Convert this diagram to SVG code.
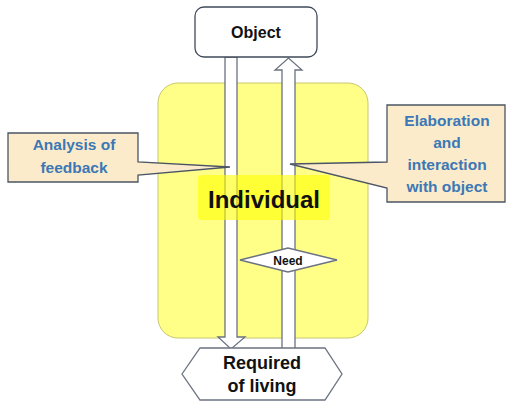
<svg xmlns="http://www.w3.org/2000/svg" width="507" height="401" viewBox="0 0 507 401">
<style>
.arr{fill:#ffffff;stroke:#6b7280;stroke-width:1.3}
.call{fill:#fcebcb;stroke:#4b5563;stroke-width:1.3}
.ct{font-family:"Liberation Sans",Arial,sans-serif;font-weight:bold;font-size:15.5px;fill:#3b78b5;text-anchor:middle}
.bt{font-family:"Liberation Sans",Arial,sans-serif;font-weight:bold;fill:#111111;text-anchor:middle}
</style>
<rect width="507" height="401" fill="#ffffff"/>
<g id="individual">
<rect x="158" y="83" width="210" height="255" rx="20" fill="#ffff88" stroke="#c8c870" stroke-width="1"/>
</g>
<g id="connectors">
<polygon class="arr" points="225,57 237,57 237,337 245,337 231,349 218,337 225,337"/>
<polygon class="arr" points="282,349 282,70 275,70 288.5,58 302,70 295,70 295,349"/>
</g>
<g id="individual-label">
<rect x="198" y="175" width="132" height="45" rx="3" fill="#ffff00" fill-opacity="0.6"/>
<text class="bt" x="264" y="208" font-size="24">Individual</text>
</g>
<g id="object">
<rect x="195" y="7" width="122" height="50" rx="9" fill="#ffffff" stroke="#3f4a5a" stroke-width="1.3"/>
<text class="bt" x="256" y="38" font-size="16">Object</text>
</g>
<g id="need">
<polygon points="240,260 288,248 337,260 288,272" fill="#ffffff" stroke="#6b7280" stroke-width="1.3"/>
<text class="bt" x="288" y="264.5" font-size="12">Need</text>
</g>
<g id="required">
<polygon points="182,374 200,348 325,348 342,374 325,400 200,400" fill="#ffffff" stroke="#6b7280" stroke-width="1.3"/>
<text class="bt" x="262" y="369" font-size="18">Required</text>
<text class="bt" x="262" y="392" font-size="18">of living</text>
</g>
<g id="analysis">
<path class="call" d="M8,133 H138 V162 L230,167 L138,175 V182 H8 Z"/>
<text class="ct" x="74" y="150">Analysis of</text>
<text class="ct" x="74" y="173">feedback</text>
</g>
<g id="elaboration">
<path class="call" d="M387,105 H505 V202 H387 V188 L290,164 L387,162 Z"/>
<text class="ct" x="447" y="126">Elaboration</text>
<text class="ct" x="447" y="148">and</text>
<text class="ct" x="447" y="170">interaction</text>
<text class="ct" x="447" y="192">with object</text>
</g>
</svg>
